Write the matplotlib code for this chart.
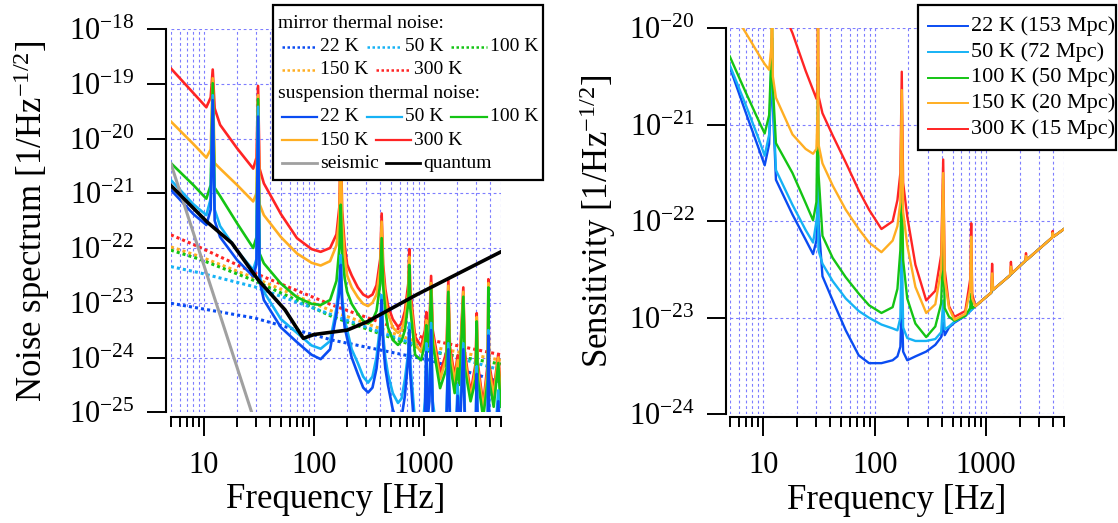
import numpy as np
import matplotlib
matplotlib.use("Agg")
import matplotlib.pyplot as plt
from matplotlib.lines import Line2D
from matplotlib.patches import Rectangle
from matplotlib.ticker import FixedLocator, NullFormatter, NullLocator

plt.rcParams['font.family'] = ['Liberation Serif', 'DejaVu Serif']
plt.rcParams['mathtext.fontset'] = 'custom'
plt.rcParams['mathtext.rm'] = 'Liberation Serif'
plt.rcParams['mathtext.it'] = 'Liberation Serif:italic'

W, H = 1118, 523

# colours per temperature
temps = ["22 K", "50 K", "100 K", "150 K", "300 K"]
colors = {"22 K": "#0a4cf2", "50 K": "#16b2f5", "100 K": "#14c414",
          "150 K": "#ffae22", "300 K": "#ff2424"}

# ---------------- left panel: noise budget (log10 of amplitude) ----------------
freq_sus = [5, 8, 10.5, 11.5, 12, 12.5, 14, 20, 28, 30, 31, 32, 35, 50, 70, 95, 115, 140, 160, 170,
            175, 180, 190, 200, 220, 250, 280, 310, 340, 370, 400, 412, 425, 445, 470, 520, 580, 625,
            670, 720, 735, 750, 830, 940, 1020, 1050, 1080, 1120, 1160, 1200, 1400, 1600, 1664, 1720,
            1900, 2023, 2100, 2277, 2350, 2650, 2950, 3014, 3080, 3450, 3800, 3846, 3900, 4300, 4735,
            4900, 5000]

sus_300 = [-18.72, -19.17, -19.43, -19.25, -18.74, -19.45, -19.75, -20.18, -20.55, -20.35, -19.04, -20.55,
           -20.82, -21.38, -21.82, -22.02, -22.07, -22.00, -21.75, -21.25, -19.9, -21.3, -21.95,
           -22.3, -22.5, -22.72, -22.85, -22.90, -22.85, -22.68, -22.2, -21.37, -22.3, -22.75, -23.05,
           -23.3, -23.44, -23.38, -23.15, -22.65, -22.02, -22.75,
           -23.62, -23.8, -23.5, -23.17, -23.55, -23.4, -22.51, -23.5, -24.28, -23.9, -22.58, -23.8,
           -24.35, -23.96, -24.2, -22.72, -23.9, -24.65, -24.1, -23.19, -24.1, -24.85, -24.1, -22.57,
           -24.1, -24.6, -23.94, -24.4, -24.6]
sus_150 = [-19.69, -20.10, -20.35, -20.2, -18.90, -20.45, -20.55, -20.85, -21.15, -21.0, -19.21, -21.2,
           -21.4, -21.8, -22.1, -22.27, -22.32, -22.24, -21.95, -21.45, -20.1, -21.5, -22.15,
           -22.5, -22.72, -22.9, -23.02, -23.06, -23.0, -22.85, -22.35, -21.52, -22.45, -22.9, -23.2,
           -23.45, -23.55, -23.5, -23.28, -22.8, -22.16, -22.9,
           -23.75, -23.9, -23.62, -23.32, -23.65, -23.5, -22.64, -23.6, -24.4, -24.0, -22.69, -23.9,
           -24.45, -24.05, -24.3, -22.80, -24.0, -24.75, -24.2, -23.26, -24.2, -24.95, -24.2, -22.64,
           -24.2, -24.7, -24.0, -24.5, -24.7]
sus_100 = [-20.45, -20.85, -21.10, -20.85, -18.99, -20.9, -21.05, -21.55, -22.0, -21.8, -19.28, -22.1,
           -22.28, -22.65, -22.9, -23.02, -23.04, -22.95, -22.6, -22.0, -21.21, -22.1, -22.55,
           -22.8, -23.02, -23.2, -23.33, -23.38, -23.32, -23.15, -22.65, -21.82, -22.7, -23.15, -23.45,
           -23.68, -23.77, -23.7, -23.5, -23.0, -22.31, -23.1,
           -23.95, -24.05, -23.75, -23.41, -23.8, -23.65, -22.74, -23.75, -24.56, -24.2, -22.80, -24.1,
           -24.65, -24.2, -24.5, -22.89, -24.2, -24.8, -24.4, -23.34, -24.4, -25.1, -24.4, -22.72,
           -24.4, -24.9, -24.1, -24.7, -24.9]
sus_50 = [-20.76, -21.2, -21.40, -21.1, -19.21, -21.3, -21.6, -22.05, -22.40, -22.2, -19.42, -22.5,
          -22.8, -23.3, -23.55, -23.78, -23.84, -23.7, -23.1, -22.6, -22.13, -22.9, -23.3,
          -23.5, -23.85, -24.1, -24.35, -24.46, -24.35, -24.0, -23.4, -22.86, -23.6, -24.0, -24.3,
          -24.65, -24.83, -24.75, -24.4, -23.9, -23.37, -24.1,
          -25.2, -25.6, -24.8, -23.74, -24.9, -24.6, -23.37, -24.8, -25.8, -25.0, -23.74, -25.0,
          -25.8, -24.5, -25.3, -23.74, -25.0, -25.8, -25.2, -24.16, -25.2, -25.9, -25.0, -23.5,
          -25.0, -25.8, -24.6, -25.5, -25.6]
sus_22 = [-20.94, -21.38, -21.58, -21.3, -19.30, -21.5, -21.8, -22.22, -22.52, -22.3, -19.60, -22.6,
          -22.95, -23.45, -23.72, -23.95, -24.03, -23.85, -23.2, -22.8, -22.31, -23.0, -23.45,
          -23.65, -24.0, -24.3, -24.55, -24.64, -24.55, -24.2, -23.55, -22.95, -23.75, -24.2, -24.5,
          -24.95, -25.2, -25.1, -24.7, -24.0, -23.5, -24.3,
          -25.5, -25.8, -25.0, -23.9, -25.1, -24.8, -23.5, -25.0, -26.0, -25.2, -23.85, -25.2,
          -26.0, -24.7, -25.5, -23.85, -25.2, -26.0, -25.4, -24.3, -25.4, -26.0, -25.2, -23.6,
          -25.2, -26.0, -24.8, -25.7, -25.8]

freq_mir = [5, 9, 29, 145, 1130, 5000]
mir_300 = [-21.76, -21.98, -22.46, -23.04, -23.68, -23.95]
mir_150 = [-21.98, -22.15, -22.55, -23.15, -23.80, -24.05]
mir_100 = [-22.04, -22.20, -22.60, -23.25, -23.89, -24.12]
mir_50 = [-22.34, -22.45, -22.71, -23.22, -23.86, -24.23]
mir_22 = [-23.01, -23.10, -23.28, -23.68, -24.05, -24.45]

freq_seis = [5, 27.1]
seis = [-20.46, -25.0]

freq_quant = [5, 10.6, 17.9, 31, 54.5, 80, 100, 200, 302, 862, 5000]
quant = [-20.86, -21.52, -21.91, -22.58, -23.13, -23.65, -23.58, -23.50, -23.35, -22.85, -22.07]

# ---------------- right panel: sensitivity (log10) ----------------
freq_sens = [5, 7, 9.2, 10.3, 11.3, 11.8, 12, 12.2, 13, 18.3, 24, 28, 30, 30.7, 31, 31.3, 34, 42, 55,
             72, 89, 115, 145, 160, 170, 175, 180, 196, 232, 290, 350, 395, 412, 425, 465, 520, 650,
             720, 735, 750, 800, 1110, 1132, 1155, 1640, 1670, 1700, 2250, 2280, 2310, 3900, 3960,
             4020, 5000]
sens_22 = [-20.40, -20.88, -21.26, -21.42, -21.2, -20.5, -20.2, -20.8, -21.57, -21.93, -22.19, -22.34,
           -22.2, -21.9, -21.6, -22.0, -22.57, -22.82, -23.13, -23.39, -23.47, -23.47, -23.44, -23.40,
           -23.3, -22.8, -23.35, -23.44, -23.40, -23.35, -23.28, -23.2, -23.05, -23.18, -23.1, -23.05,
           -22.98, -22.93, -22.92, -22.91, -22.88, -22.74, -22.72, -22.71, -22.56, -22.55, -22.54,
           -22.41, -22.40, -22.40, -22.17, -22.16, -22.16, -22.08]
sens_50 = [-20.38, -20.80, -21.16, -21.32, -21.1, -20.4, -20.1, -20.7, -21.47, -21.83, -22.09, -22.22,
           -22.0, -21.9, -21.31, -22.3, -22.44, -22.62, -22.80, -22.93, -23.00, -23.07, -23.11, -23.13,
           -23.0, -22.12, -23.1, -23.21, -23.24, -23.24, -23.22, -23.15, -22.82, -23.12, -23.09, -23.04,
           -22.98, -22.93, -22.92, -22.91, -22.88, -22.74, -22.72, -22.71, -22.56, -22.55, -22.54,
           -22.41, -22.40, -22.40, -22.17, -22.16, -22.16, -22.08]
sens_100 = [-20.29, -20.67, -20.97, -21.09, -20.9, -20.3, -19.9, -20.6, -21.19, -21.50, -21.81, -21.99,
            -21.8, -21.0, -20.4, -21.5, -22.15, -22.38, -22.58, -22.75, -22.87, -22.95, -22.89, -22.7,
            -22.3, -21.55, -22.4, -22.8, -23.06, -23.20, -23.09, -22.85, -22.19, -22.9, -22.99, -23.03,
            -22.98, -22.9, -22.75, -22.9, -22.88, -22.74, -22.65, -22.71, -22.56, -22.52, -22.54,
            -22.41, -22.38, -22.40, -22.17, -22.14, -22.16, -22.08]
sens_150 = [-19.78, -20.05, -20.28, -20.37, -20.43, -20.2, -19.5, -20.5, -20.72, -21.1, -21.25, -21.30,
            -21.25, -20.9, -19.5, -21.2, -21.40, -21.63, -21.88, -22.08, -22.22, -22.32, -22.2, -22.05,
            -21.8, -20.64, -21.9, -22.25, -22.68, -22.95, -22.86, -22.5, -21.50, -22.6, -22.9, -23.02,
            -22.96, -22.7, -22.16, -22.8, -22.88, -22.74, -22.54, -22.71, -22.56, -22.47, -22.54,
            -22.41, -22.36, -22.40, -22.17, -22.12, -22.16, -22.08]
sens_300 = [-19.0, -19.3, -19.5, -19.6, -19.65, -19.5, -19.0, -19.6, -19.65, -20.05, -20.44, -20.64,
            -20.73, -20.6, -19.5, -20.7, -20.88, -21.11, -21.39, -21.68, -21.88, -22.08, -22.0, -21.78,
            -21.5, -20.45, -21.6, -21.95, -22.45, -22.82, -22.72, -22.35, -21.36, -22.5, -22.88, -22.99,
            -22.93, -22.6, -22.02, -22.75, -22.88, -22.74, -22.44, -22.71, -22.56, -22.42, -22.54,
            -22.41, -22.33, -22.40, -22.17, -22.10, -22.16, -22.08]
sens_labels = ["22 K (153 Mpc)", "50 K (72 Mpc)", "100 K (50 Mpc)", "150 K (20 Mpc)", "300 K (15 Mpc)"]

sus = {"22 K": sus_22, "50 K": sus_50, "100 K": sus_100, "150 K": sus_150, "300 K": sus_300}
mir = {"22 K": mir_22, "50 K": mir_50, "100 K": mir_100, "150 K": mir_150, "300 K": mir_300}
sens = {"22 K": sens_22, "50 K": sens_50, "100 K": sens_100, "150 K": sens_150, "300 K": sens_300}

GRID = "#7d7dff"
DOT = (0, (1, 1))


def style_axes(ax, ylo, yhi, lpad, bpad):
    ax.set_xscale("log")
    ax.set_yscale("log")
    ax.set_xlim(5, 5000)
    ax.set_ylim(10.0 ** ylo, 10.0 ** yhi)
    for s in ["top", "right"]:
        ax.spines[s].set_visible(False)
    ax.spines["left"].set_position(("outward", lpad))
    ax.spines["bottom"].set_position(("outward", bpad))
    for s in ["left", "bottom"]:
        ax.spines[s].set_linewidth(1.5)
    ax.set_xticks([10, 100, 1000])
    ax.set_xticklabels(["10", "100", "1000"])
    minors = [m * d for d in (1, 10, 100, 1000) for m in range(2, 10) if 5 <= m * d <= 5000]
    ax.xaxis.set_minor_locator(FixedLocator(minors))
    ax.xaxis.set_minor_formatter(NullFormatter())
    exps = list(range(yhi, ylo - 1, -1))
    ax.set_yticks([10.0 ** e for e in exps])
    ax.set_yticklabels([r"$10^{%d}$" % e for e in exps])
    ax.yaxis.set_minor_locator(NullLocator())
    ax.tick_params(which="major", direction="out", length=13.5, width=1.4, labelsize=22)
    ax.tick_params(which="minor", direction="out", length=7.5, width=1.4)
    ax.tick_params(axis="x", pad=11)
    ax.tick_params(axis="y", pad=9)
    ax.grid(True, which="both", axis="x", color=GRID, ls=(0, (2.5, 2.5)), lw=0.8)
    ax.grid(True, which="major", axis="y", color=GRID, ls=(0, (2.5, 2.5)), lw=0.8)


def P(x, y):
    return x / W, 1 - y / H


def legend_box(fig, x0, y0, x1, y1):
    fig.add_artist(Rectangle(P(x0, y1), (x1 - x0) / W, (y1 - y0) / H, transform=fig.transFigure,
                             facecolor="white", edgecolor="black", lw=1.6, zorder=10))


def legend_item(fig, xa, xb, y, label, color, ls="-", lw=1.6, size=14):
    fig.add_artist(Line2D([xa / W, xb / W], [1 - y / H, 1 - y / H], transform=fig.transFigure,
                          color=color, ls=ls, lw=lw, zorder=11))
    fig.text(*P(xb + 3, y), label, fontsize=size, ha="left", va="center", zorder=12)


fig = plt.figure(figsize=(W / 100, H / 100), dpi=100)

# left panel
ax1 = fig.add_axes([170.9 / W, 1 - 412.25 / H, 330 / W, 383.25 / H])
for t in temps[::-1]:
    ax1.plot(freq_mir, 10.0 ** np.array(mir[t]), color=colors[t], ls=DOT, lw=2.2)
for t in temps[::-1]:
    ax1.plot(freq_sus, 10.0 ** np.array(sus[t]), color=colors[t], lw=1.9)
ax1.plot(freq_seis, 10.0 ** np.array(seis), color="#a0a0a0", lw=2.2)
ax1.plot(freq_quant, 10.0 ** np.array(quant), color="black", lw=2.6)
style_axes(ax1, -25, -18, 3.7, 3.4)
ax1.set_xlabel("Frequency [Hz]", fontsize=25)
ax1.set_ylabel(r"Noise spectrum [1/Hz$^{\mathregular{-1/2}}$]", fontsize=25)
ax1.yaxis.set_label_coords(-0.36, 0.5)
ax1.xaxis.set_label_coords(0.5, -0.185)

# right panel
ax2 = fig.add_axes([729.7 / W, 1 - 414.3 / H, 334.3 / W, 386 / H])
for t in ["22 K", "50 K", "100 K", "300 K", "150 K"]:
    ax2.plot(freq_sens, 10.0 ** np.array(sens[t]), color=colors[t], lw=1.7)
style_axes(ax2, -24, -20, 2.7, 2.2)
ax2.set_xlabel("Frequency [Hz]", fontsize=25)
ax2.set_ylabel(r"Sensitivity [1/Hz$^{\mathregular{-1/2}}$]", fontsize=25)
ax2.yaxis.set_label_coords(-0.335, 0.5)
ax2.xaxis.set_label_coords(0.5, -0.18)

# left legend
legend_box(fig, 273, 5, 543, 180)
fig.text(*P(278, 24), "mirror thermal noise:", fontsize=14, ha="left", va="center", zorder=12)
fig.text(*P(278, 93.3), "suspension thermal noise:", fontsize=14, ha="left", va="center", zorder=12)
slots = [(282, 317, 46.7), (367, 402, 46.7), (451, 487, 46.7), (282, 317, 70), (376, 411, 70)]
for (xa, xb, y), t in zip(slots, temps):
    legend_item(fig, xa, xb, y, t, colors[t], ls=DOT, lw=1.8)
    legend_item(fig, xa, xb, y + 70, t, colors[t])
legend_item(fig, 282, 317, 163.3, "seismic", "#a0a0a0", lw=2.0)
legend_item(fig, 386, 420, 163.3, "quantum", "black", lw=2.0)

# right legend
legend_box(fig, 918, 5, 1116, 150)
for i, t in enumerate(temps):
    legend_item(fig, 928, 968, 26 + i * 25.8, sens_labels[i], colors[t], lw=1.4, size=16)

fig.savefig("out.png", dpi=100)
